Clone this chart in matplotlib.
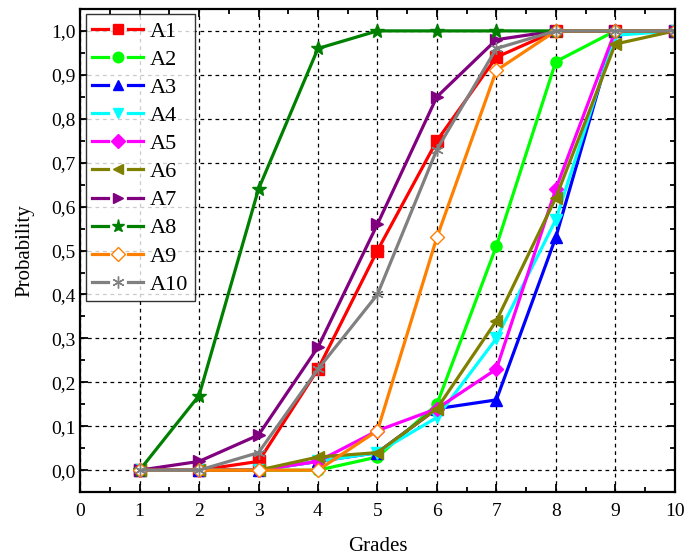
import matplotlib
matplotlib.use("Agg")
import matplotlib.pyplot as plt
from matplotlib.lines import Line2D
from matplotlib.legend_handler import HandlerLine2D
from matplotlib.ticker import MultipleLocator

plt.rcParams["font.family"] = ["Liberation Serif", "DejaVu Serif"]

# Grades on the x axis
grades = [1, 2, 3, 4, 5, 6, 7, 8, 9, 10]

# Probability curves
a1 = [0, 0, 0.02, 0.23, 0.50, 0.75, 0.94, 1.0, 1.0, 1.0]
a2 = [0, 0, 0, 0, 0.03, 0.15, 0.51, 0.93, 1.0, 1.0]
a3 = [0, 0, 0, 0.02, 0.04, 0.14, 0.16, 0.53, 1.0, 1.0]
a4 = [0, 0, 0, 0.02, 0.04, 0.12, 0.30, 0.57, 0.99, 1.0]
a5 = [0, 0, 0, 0.02, 0.09, 0.14, 0.23, 0.64, 1.0, 1.0]
a6 = [0, 0, 0, 0.03, 0.04, 0.14, 0.34, 0.62, 0.97, 1.0]
a7 = [0, 0.02, 0.08, 0.28, 0.56, 0.85, 0.98, 1.0, 1.0, 1.0]
a8 = [0, 0.17, 0.64, 0.96, 1.0, 1.0, 1.0, 1.0, 1.0, 1.0]
a9 = [0, 0, 0, 0, 0.09, 0.53, 0.91, 1.0, 1.0, 1.0]
a10 = [0, 0, 0.04, 0.23, 0.40, 0.73, 0.96, 1.0, 1.0, 1.0]

labels = ["A1", "A2", "A3", "A4", "A5", "A6", "A7", "A8", "A9", "A10"]
series = [a1, a2, a3, a4, a5, a6, a7, a8, a9, a10]

# styles for each curve
colors = ["#ff0000", "#00ff00", "#0000ff", "#00ffff", "#ff00ff",
          "#808000", "#800080", "#008000", "#ff8000", "#808080"]
markers = ["s", "o", "^", "v", "D", "<", ">", "*", "D", (6, 2, 0)]
sizes = [8, 8, 8, 8, 7, 8, 8, 10, 7, 9]


# legend entry drawn Origin style: line, gap, marker, gap, line
class GapHandler(HandlerLine2D):
    def create_artists(self, legend, orig_handle, xdescent, ydescent,
                       width, height, fontsize, trans):
        x0 = -xdescent
        x1 = x0 + width
        xm = (x0 + x1) / 2
        y = (height - ydescent) / 2
        gap = 0.19 * width
        arts = []
        for xs in ([x0, xm - gap], [xm + gap, x1]):
            seg = Line2D(xs, [y, y])
            self.update_prop(seg, orig_handle, legend)
            seg.set_marker("")
            seg.set_transform(trans)
            arts.append(seg)
        mk = Line2D([xm], [y])
        self.update_prop(mk, orig_handle, legend)
        mk.set_linestyle("none")
        mk.set_markersize(orig_handle.get_markersize() * 0.95)
        mk.set_transform(trans)
        arts.append(mk)
        return arts


fig = plt.figure(figsize=(6.85, 5.58), dpi=100)
ax = fig.add_axes([0.117, 0.118, 0.868, 0.866])

for i in range(len(series)):
    face = colors[i]
    if labels[i] == "A9":
        face = "white"
    ax.plot(grades, series[i], color=colors[i], linewidth=2.3, marker=markers[i],
            markersize=sizes[i], markerfacecolor=face, markeredgecolor=colors[i],
            markeredgewidth=1.0, label=labels[i])

ax.set_xlim(0, 10)
ax.set_ylim(-0.05, 1.05)
ax.xaxis.set_major_locator(MultipleLocator(1))
ax.xaxis.set_minor_locator(MultipleLocator(0.5))
ax.yaxis.set_major_locator(MultipleLocator(0.1))
ax.yaxis.set_minor_locator(MultipleLocator(0.05))
ax.yaxis.set_major_formatter(lambda v, p: ("%.1f" % v).replace(".", ","))

ax.tick_params(which="both", direction="in", top=True, right=True, labelsize=14, width=1.3)
ax.tick_params(which="major", length=6)
ax.tick_params(which="minor", length=3.5)
ax.tick_params(axis="x", pad=8)
for s in ax.spines.values():
    s.set_linewidth(1.6)

ax.grid(True, which="major", color="black", linestyle=(0, (3, 3)), linewidth=0.9)

ax.set_xlabel("Grades", fontsize=15, labelpad=12)
ax.set_ylabel("Probability", fontsize=15, labelpad=12)

leg = ax.legend(loc="upper left", fontsize=16, frameon=True, fancybox=False,
                handlelength=2.3, borderaxespad=0.25, labelspacing=0.34,
                handletextpad=0.28, borderpad=0.3,
                handler_map={Line2D: GapHandler()})
leg.get_frame().set_edgecolor("black")
leg.get_frame().set_linewidth(1.0)

fig.savefig("out.png", dpi=100)
